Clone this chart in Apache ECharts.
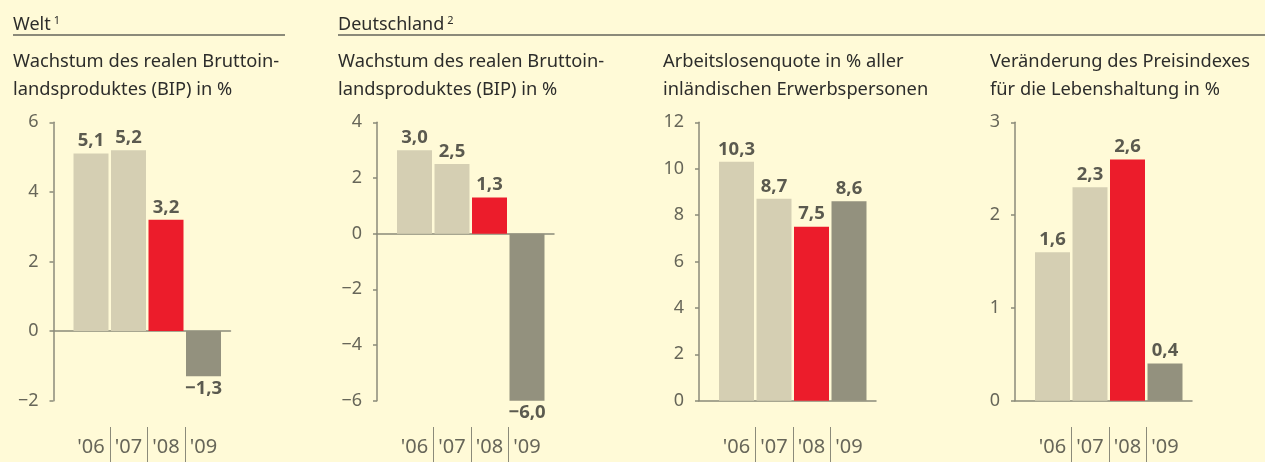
<!DOCTYPE html>
<html>
<head>
<meta charset="utf-8">
<script src="https://cdn.jsdelivr.net/npm/echarts@6/dist/echarts.min.js"></script>
<style>
  html, body { margin: 0; padding: 0; background: #fffad7; }
  #chart { width: 1265px; height: 462px; }
</style>
</head>
<body>
<div id="chart"></div>
<script>
// Daten
const years = ["'06", "'07", "'08", "'09"]
const weltBip = [5.1, 5.2, 3.2, -1.3]
const deBip = [3.0, 2.5, 1.3, -6.0]
const deArbeitslos = [10.3, 8.7, 7.5, 8.6]
const dePreise = [1.6, 2.3, 2.6, 0.4]

const panelTitles = [
  'Wachstum des realen Bruttoin-\nlandsproduktes (BIP) in %',
  'Wachstum des realen Bruttoin-\nlandsproduktes (BIP) in %',
  'Arbeitslosenquote in % aller\ninländischen Erwerbspersonen',
  'Veränderung des Preisindexes\nfür die Lebenshaltung in %',
]
const axisMin = [-2, -6, 0, 0]
const axisMax = [6, 4, 12, 3]
const axisStep = [2, 2, 2, 1]
const panelData = [weltBip, deBip, deArbeitslos, dePreise]

const barColors = ['#d5cfb3', '#d5cfb3', '#ec1c2b', '#93917e']
const axisColor = '#8b8a7a'
const font = "'Noto Sans', sans-serif"

// Layout
const axisX = [53.5, 377, 699, 1015]
const titleX = [13, 338, 663, 990]
const unit = 37.5
const gridW = 177
const gridTop = 122.3
const gridH = 278.4

const fmt = v => v.toFixed(1).replace('.', ',').replace('-', '\u2212')

const chart = echarts.init(document.getElementById('chart'))

const grids = [], xAxes = [], yAxes = [], series = [], titles = []

panelData.forEach((vals, p) => {
  // Balken-Grid
  grids.push({ left: axisX[p], top: gridTop, width: gridW, height: gridH })
  // Label-Streifen unten
  grids.push({ left: axisX[p] + unit / 2, top: 427, width: unit * 4, height: 35 })

  xAxes.push({
    gridIndex: p * 2, type: 'value', min: 0, max: gridW / unit,
    axisLine: { show: true, onZero: true, lineStyle: { color: axisColor, width: 1.5 } },
    axisTick: { show: false }, axisLabel: { show: false }, splitLine: { show: false },
  })
  xAxes.push({
    gridIndex: p * 2 + 1, type: 'category', data: years, position: 'bottom',
    axisLine: { show: false }, axisTick: { show: false },
    axisLabel: { inside: true, margin: 5, fontSize: 20, color: '#676659', fontFamily: font },
    splitLine: { show: true, showMinLine: false, showMaxLine: false, lineStyle: { color: axisColor, width: 1 } },
  })

  yAxes.push({
    gridIndex: p * 2, type: 'value', min: axisMin[p], max: axisMax[p], interval: axisStep[p],
    axisLine: { show: true, lineStyle: { color: axisColor, width: 1.5 } },
    axisTick: { show: true, length: 4, lineStyle: { color: axisColor, width: 1.5 } },
    axisLabel: { margin: 15, fontSize: 18, color: '#676659', fontFamily: font, formatter: v => String(v).replace('-', '\u2212') },
    splitLine: { show: false },
  })
  yAxes.push({ gridIndex: p * 2 + 1, type: 'value', show: false })

  series.push({
    type: 'bar', xAxisIndex: p * 2, yAxisIndex: p * 2, barWidth: 35,
    data: vals.map((v, i) => ({
      value: [i + 1, v],
      itemStyle: { color: barColors[i] },
      label: { position: v < 0 ? 'bottom' : 'top' },
    })),
    label: {
      show: true, distance: 3, fontSize: 18.5, fontWeight: 'bold', color: '#5b5a4f', fontFamily: font,
      formatter: d => fmt(d.value[1]),
    },
    silent: true,
  })

  titles.push({
    text: panelTitles[p], left: titleX[p], top: 48, padding: 0,
    textStyle: { fontSize: 18.3, fontWeight: 'normal', color: '#2d2d2b', fontFamily: font, lineHeight: 28 },
  })
})

const headRich = {
  a: { fontSize: 18, fontWeight: 'normal', color: '#2d2d2b', fontFamily: font },
  s: { fontSize: 11, fontWeight: 'normal', color: '#2d2d2b', fontFamily: font, padding: [0, 0, 8, 3] },
}
titles.push({ text: '{a|Welt}{s|1}', left: 13, top: 15, padding: 0, textStyle: { rich: headRich } })
titles.push({ text: '{a|Deutschland}{s|2}', left: 338, top: 15, padding: 0, textStyle: { rich: headRich } })

chart.setOption({
  backgroundColor: '#fffad7',
  animation: false,
  title: titles,
  grid: grids,
  xAxis: xAxes,
  yAxis: yAxes,
  series,
  graphic: [
    { type: 'line', shape: { x1: 13, y1: 35, x2: 285, y2: 35 }, style: { stroke: axisColor, lineWidth: 2 } },
    { type: 'line', shape: { x1: 338, y1: 35, x2: 1265, y2: 35 }, style: { stroke: axisColor, lineWidth: 2 } },
  ],
})
</script>
</body>
</html>
